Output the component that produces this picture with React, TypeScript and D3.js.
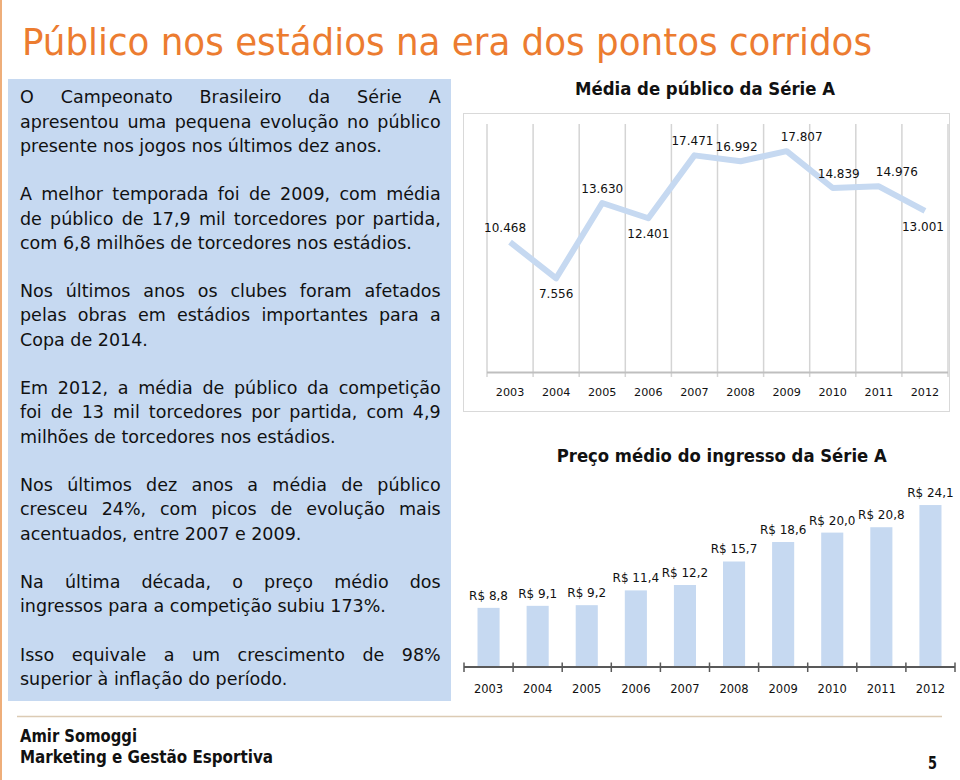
import React, { useLayoutEffect, useRef } from "react";
import * as d3 from "d3";

// ---------- DATA ----------
const years = ["2003", "2004", "2005", "2006", "2007", "2008", "2009", "2010", "2011", "2012"];
const attendance = [10468, 7556, 13630, 12401, 17471, 16992, 17807, 14839, 14976, 13001];
const ticketPrice = [8.8, 9.1, 9.2, 11.4, 12.2, 15.7, 18.6, 20.0, 20.8, 24.1];
const attendanceLabelSide = ["above", "below", "above", "below", "above", "above", "above", "above", "above", "below"];
const attendanceLabelDx = [-5, 0, 0, 0, -2, -4, 15, 6, 18, -2];

const pageTitle = "Público nos estádios na era dos pontos corridos";
const lineTitle = "Média de público da Série A";
const barTitle = "Preço médio do ingresso da Série A";
const footerLines = ["Amir Somoggi", "Marketing e Gestão Esportiva"];
const pageNumber = "5";

const paragraphs: string[][] = [
  ["O Campeonato Brasileiro da Série A", "apresentou uma pequena evolução no público", "presente nos jogos nos últimos dez anos."],
  ["A melhor temporada foi de 2009, com média", "de público de 17,9 mil torcedores por partida,", "com 6,8 milhões de torcedores nos estádios."],
  ["Nos últimos anos os clubes foram afetados", "pelas obras em estádios importantes para a", "Copa de 2014."],
  ["Em 2012, a média de público da competição", "foi de 13 mil torcedores por partida, com 4,9", "milhões de torcedores nos estádios."],
  ["Nos últimos dez anos a média de público", "cresceu 24%, com picos de evolução mais", "acentuados, entre 2007 e 2009."],
  ["Na última década, o preço médio dos", "ingressos para a competição subiu 173%."],
  ["Isso equivale a um crescimento de 98%", "superior à inflação do período."],
];

// ---------- STYLE ----------
const ORANGE = "#ec7c30";
const LIGHT_BLUE = "#c6d9f1";
const FONT = "'DejaVu Sans', Verdana, sans-serif";

const ptLocale = d3.formatLocale({ decimal: ",", thousands: ".", grouping: [3], currency: ["R$ ", ""] });
const fmtAttendance = ptLocale.format(",d");
const fmtPrice = ptLocale.format(".1f");

export default function App() {
  const textRef = useRef<SVGGElement>(null);

  // Line chart scales
  const xL = d3.scaleBand<string>().domain(years).range([487, 948]);
  const yL = d3.scaleLinear().domain([0, 20000]).range([372, 124]);
  const lineGen = d3
    .line<number>()
    .x((_, i) => (xL(years[i]) as number) + xL.bandwidth() / 2)
    .y((d) => yL(d));
  const gridXs = years.map((y) => xL(y) as number).concat([xL.range()[1]]);

  // Bar chart scales
  const xB = d3.scaleBand<string>().domain(years).range([464, 955]).paddingInner(0.55).paddingOuter(0.275);
  const yB = d3.scaleLinear().domain([0, 25]).range([667, 499]);
  const stepB = xB.step();
  const barTicks = years.map((y) => (xB(y) as number) - (stepB * 0.55) / 2).concat([xB.range()[1]]);

  // Text lines positions
  const lineH = 24.24;
  const textLeft = 20;
  const textWidth = 420.7;
  const rows: { text: string; justify: boolean; row: number }[] = [];
  let r = 0;
  paragraphs.forEach((p) => {
    p.forEach((t, i) => {
      rows.push({ text: t, justify: i < p.length - 1, row: r });
      r++;
    });
    r++;
  });

  useLayoutEffect(() => {
    const g = textRef.current;
    if (!g) return;
    d3.select(g)
      .selectAll<SVGTextElement, unknown>("text[data-justify='1']")
      .each(function () {
        this.style.wordSpacing = "0px";
        const natural = this.getComputedTextLength();
        const n = (this.textContent || "").trim().split(/\s+/).length;
        if (n > 1) this.style.wordSpacing = `${(textWidth - natural) / (n - 1)}px`;
      });
  }, []);

  return (
    <svg
      width={960}
      height={780}
      style={{ position: "absolute", left: 0, top: 0, background: "#fff" }}
      fontFamily={FONT}
    >
      {/* left orange edge */}
      <rect x={0} y={0} width={2} height={780} fill="#eeae7a" />

      {/* Page title */}
      <text x={22} y={55} fontSize={38} fill={ORANGE} textLength={850} lengthAdjust="spacingAndGlyphs"
        fontFamily="'DejaVu Sans Condensed', 'DejaVu Sans', sans-serif">
        {pageTitle}
      </text>

      {/* Left panel */}
      <rect x={8} y={79} width={443} height={622} fill={LIGHT_BLUE} />
      <g ref={textRef} fontSize={17.5} fill="#111">
        {rows.map((row, i) => (
          <text key={i} x={textLeft} y={103.3 + row.row * lineH} data-justify={row.justify ? "1" : "0"}>
            {row.text}
          </text>
        ))}
      </g>

      {/* Line chart */}
      <text x={705} y={95} textAnchor="middle" fontSize={17} fontWeight="bold" fill="#111" textLength={260} lengthAdjust="spacingAndGlyphs">
        {lineTitle}
      </text>
      <rect x={463.5} y={113.5} width={486} height={298} fill="none" stroke="#d9d9d9" strokeWidth={1} />
      {gridXs.map((gx, i) => (
        <line key={i} x1={gx} x2={gx} y1={124} y2={377} stroke="#d4d4d4" strokeWidth={1.5} />
      ))}
      <line x1={487} x2={948} y1={372.5} y2={372.5} stroke="#bfbfbf" strokeWidth={2} />
      <path d={lineGen(attendance) || ""} fill="none" stroke={LIGHT_BLUE} strokeWidth={6} strokeLinejoin="round" strokeLinecap="butt" />
      {attendance.map((v, i) => {
        const cx = (xL(years[i]) as number) + xL.bandwidth() / 2 + attendanceLabelDx[i];
        const cy = yL(v) + (attendanceLabelSide[i] === "above" ? -10 : 20);
        return (
          <text key={i} x={cx} y={cy} textAnchor="middle" fontSize={12} fill="#111">
            {fmtAttendance(v)}
          </text>
        );
      })}
      {years.map((y) => (
        <text key={y} x={(xL(y) as number) + xL.bandwidth() / 2} y={396} textAnchor="middle" fontSize={11.2} fill="#111">
          {y}
        </text>
      ))}

      {/* Bar chart */}
      <text x={721.7} y={461.7} textAnchor="middle" fontSize={17} fontWeight="bold" fill="#111" textLength={330} lengthAdjust="spacingAndGlyphs">
        {barTitle}
      </text>
      {ticketPrice.map((v, i) => (
        <rect key={i} x={xB(years[i])} y={yB(v)} width={xB.bandwidth()} height={yB(0) - yB(v)} fill={LIGHT_BLUE} />
      ))}
      {ticketPrice.map((v, i) => (
        <text key={i} x={(xB(years[i]) as number) + xB.bandwidth() / 2} y={yB(v) - 8} textAnchor="middle" fontSize={12} fill="#111">
          {"R$ " + fmtPrice(v)}
        </text>
      ))}
      <line x1={464} x2={955} y1={667} y2={667} stroke="#595959" strokeWidth={2} />
      {barTicks.map((tx, i) => (
        <line key={i} x1={tx} x2={tx} y1={662.5} y2={672} stroke="#595959" strokeWidth={1.5} />
      ))}
      {years.map((y) => (
        <text key={y} x={(xB(y) as number) + xB.bandwidth() / 2} y={693} textAnchor="middle" fontSize={11.5} fill="#111">
          {y}
        </text>
      ))}

      {/* Footer */}
      <line x1={17} x2={942} y1={716.5} y2={716.5} stroke="#dccbb4" strokeWidth={1.5} />
      <text x={20} y={741.7} fontSize={18} fontWeight="bold" fill="#111" textLength={117} lengthAdjust="spacingAndGlyphs">
        {footerLines[0]}
      </text>
      <text x={20} y={762.7} fontSize={18} fontWeight="bold" fill="#111" textLength={253} lengthAdjust="spacingAndGlyphs">
        {footerLines[1]}
      </text>
      <text x={937} y={769} textAnchor="end" fontSize={18} fontWeight="bold" fill="#111" textLength={9} lengthAdjust="spacingAndGlyphs">
        {pageNumber}
      </text>
    </svg>
  );
}
